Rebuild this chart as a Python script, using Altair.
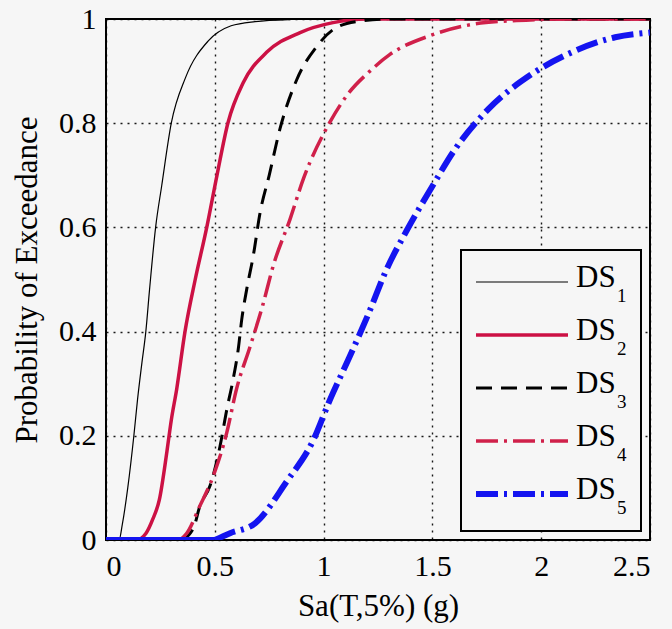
import altair as alt
import pandas as pd

# ---------------- data ----------------
series = ["DS1", "DS2", "DS3", "DS4", "DS5"]

ds1_x = [0, 0.06, 0.075, 0.10, 0.128, 0.145, 0.165, 0.183, 0.20, 0.228, 0.256, 0.30, 0.365, 0.47, 0.575, 0.685, 0.85, 1.0, 2.5]
ds1_y = [0, 0, 0.03, 0.10, 0.20, 0.27, 0.34, 0.40, 0.48, 0.60, 0.68, 0.80, 0.887, 0.958, 0.987, 0.995, 0.999, 1.0, 1.0]

ds2_x = [0, 0.14, 0.184, 0.215, 0.245, 0.28, 0.30, 0.325, 0.363, 0.41, 0.463, 0.51, 0.56, 0.631, 0.738, 0.892, 1.043, 1.2, 2.5]
ds2_y = [0, 0, 0.013, 0.04, 0.077, 0.17, 0.23, 0.29, 0.40, 0.50, 0.60, 0.70, 0.80, 0.878, 0.936, 0.974, 0.993, 1.0, 1.0]

ds3_x = [0, 0.34, 0.40, 0.432, 0.478, 0.524, 0.555, 0.585, 0.608, 0.624, 0.647, 0.677, 0.708, 0.75, 0.80, 0.876, 0.968, 1.045, 1.15, 1.3, 2.5]
ds3_y = [0, 0, 0.021, 0.066, 0.104, 0.18, 0.25, 0.31, 0.367, 0.424, 0.482, 0.546, 0.628, 0.70, 0.79, 0.883, 0.947, 0.98, 0.995, 1.0, 1.0]

ds4_x = [0, 0.33, 0.371, 0.432, 0.493, 0.555, 0.60, 0.662, 0.72, 0.769, 0.846, 0.907, 1.029, 1.11, 1.213, 1.305, 1.489, 1.688, 1.887, 2.1, 2.5]
ds4_y = [0, 0, 0.013, 0.066, 0.123, 0.206, 0.29, 0.371, 0.45, 0.527, 0.616, 0.693, 0.802, 0.855, 0.90, 0.932, 0.968, 0.99, 0.997, 1.0, 1.0]

ds5_x = [0, 0.5, 0.57, 0.685, 0.83, 0.953, 1.029, 1.121, 1.206, 1.29, 1.382, 1.497, 1.604, 1.757, 1.956, 2.14, 2.34, 2.5]
ds5_y = [0, 0, 0.013, 0.032, 0.112, 0.192, 0.269, 0.353, 0.434, 0.52, 0.594, 0.677, 0.75, 0.827, 0.894, 0.936, 0.965, 0.974]

x_ticks = [0, 0.5, 1, 1.5, 2, 2.5]
y_ticks = [0, 0.2, 0.4, 0.6, 0.8, 1]

rows = []
for name, xs, ys in zip(series, [ds1_x, ds2_x, ds3_x, ds4_x, ds5_x], [ds1_y, ds2_y, ds3_y, ds4_y, ds5_y]):
    for i, (xv, yv) in enumerate(zip(xs, ys)):
        rows.append({"series": name, "x": xv, "y": yv, "order": i})
df = pd.DataFrame(rows)

# ---------------- styles ----------------
FONT = "Liberation Serif"
BG = "#f6f6f6"
styles = {
    "DS1": dict(color="#000000", strokeWidth=1.2),
    "DS2": dict(color="#cc1144", strokeWidth=3.5),
    "DS3": dict(color="#000000", strokeWidth=3, strokeDash=[16, 9]),
    "DS4": dict(color="#d0204a", strokeWidth=3.5, strokeDash=[22, 6, 3, 6]),
    "DS5": dict(color="#1414f0", strokeWidth=6, strokeDash=[22, 6, 3, 6]),
}

xenc = alt.X("x:Q", scale=alt.Scale(domain=[0, 2.5], nice=False, zero=False),
             axis=alt.Axis(values=x_ticks, format="~g", title="Sa(T,5%) (g)",
                           titleBaseline="alphabetic", titleY=75))
yenc = alt.Y("y:Q", scale=alt.Scale(domain=[0, 1], nice=False),
             axis=alt.Axis(values=y_ticks, format="~g", title="Probability of Exceedance",
                           titleBaseline="alphabetic", titleX=-70))

base = alt.Chart(df)
layers = []
for name in series:
    st = styles[name]
    if name == "DS5":
        flat = dict(color=st["color"], strokeWidth=st["strokeWidth"])
        layers.append(base.transform_filter((alt.datum.series == name) & (alt.datum.x <= 0.5))
                      .mark_line(clip=True, **flat)
                      .encode(x=xenc, y=yenc, order="order:Q"))
        layers.append(base.transform_filter((alt.datum.series == name) & (alt.datum.x >= 0.5))
                      .mark_line(clip=True, interpolate="monotone", **st)
                      .encode(x=xenc, y=yenc, order="order:Q"))
    else:
        layers.append(base.transform_filter(alt.datum.series == name)
                      .mark_line(clip=True, interpolate="monotone", **st)
                      .encode(x=xenc, y=yenc, order="order:Q"))

# ---------------- manual legend (pixel layout inside plot area) ----------------
LEG_X0, LEG_X1, LEG_Y0, LEG_Y1 = 355, 535, 231, 512
LINE_X0, LINE_X1 = 370, 462
ROW0, ROW_STEP = 263, 53
TXT_X, SUB_X = 470, 511

layers.append(alt.Chart(pd.DataFrame({"s": ["box"]})).mark_rect(
    fill=BG, stroke="black", strokeWidth=2).encode(
    x=alt.value(LEG_X0), x2=alt.value(LEG_X1), y=alt.value(LEG_Y0), y2=alt.value(LEG_Y1)))

for i, name in enumerate(series):
    st = styles[name]
    ly = ROW0 + ROW_STEP * i
    ldf = pd.DataFrame({"main": [name[:2]], "sub": [name[2:]]})
    layers.append(alt.Chart(ldf).mark_rule(**st).encode(
        x=alt.value(LINE_X0), x2=alt.value(LINE_X1), y=alt.value(ly)))
    layers.append(alt.Chart(ldf).mark_text(align="left", baseline="alphabetic", font=FONT,
                                           fontSize=31, color="black").encode(
        x=alt.value(TXT_X), y=alt.value(ly + 5), text="main:N"))
    layers.append(alt.Chart(ldf).mark_text(align="left", baseline="alphabetic", font=FONT,
                                           fontSize=19, color="black").encode(
        x=alt.value(SUB_X), y=alt.value(ly + 20), text="sub:N"))

chart = alt.layer(*layers).properties(
    width=544, height=521,
    autosize=alt.AutoSizeParams(type="none"),
    padding={"left": 106, "top": 19, "right": 22, "bottom": 89},
    background=BG,
).configure_view(
    stroke="black", strokeWidth=2, fill=BG
).configure_axis(
    domain=False, ticks=False, tickSize=0,
    grid=True, gridColor="#000000", gridDash=[2, 5], gridWidth=1.4, gridOpacity=0.9,
    labelFont=FONT, labelFontSize=30, labelColor="black",
    titleFont=FONT, titleFontSize=31, titleColor="black", titleFontWeight="normal",
).configure_axisX(
    labelPadding=11
).configure_axisY(
    labelPadding=10
)

chart.save("out.html", embed_options={"renderer": "svg", "actions": False})
